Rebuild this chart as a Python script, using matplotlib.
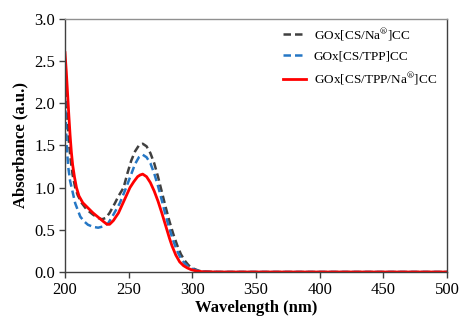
import matplotlib.pyplot as plt

# wavelength (nm) and absorbance for each sample
wl_gray = [200, 201, 202, 203, 204.5, 206, 208, 210, 213, 217, 222, 226, 229, 232, 235,
           239, 242, 246, 249, 252, 255, 258, 261, 264, 267, 270, 273, 276, 279, 282,
           285, 288, 291, 294, 297, 300, 305, 310, 320, 400, 500]
ab_gray = [2.30, 2.05, 1.80, 1.55, 1.32, 1.15, 1.00, 0.91, 0.82, 0.74, 0.68, 0.64, 0.625,
           0.64, 0.70, 0.81, 0.90, 1.00, 1.17, 1.32, 1.43, 1.50, 1.52, 1.49, 1.41, 1.29,
           1.13, 0.95, 0.77, 0.60, 0.45, 0.32, 0.21, 0.135, 0.08, 0.045, 0.015, 0.004,
           0.0, 0.0, 0.0]

wl_blue = [200, 201.3, 202.5, 204, 205.2, 208, 212, 215, 218, 222, 226, 230, 234, 238,
           243, 248, 252, 255, 258, 261, 264, 267, 270, 273, 276, 279, 282, 285, 288,
           291, 294, 297, 300, 305, 310, 320, 400, 500]
ab_blue = [2.05, 1.50, 1.25, 1.08, 1.00, 0.815, 0.656, 0.60, 0.56, 0.535, 0.525, 0.54,
           0.58, 0.68, 0.815, 1.00, 1.16, 1.28, 1.36, 1.39, 1.36, 1.29, 1.17, 1.02, 0.85,
           0.67, 0.51, 0.37, 0.25, 0.16, 0.10, 0.06, 0.035, 0.012, 0.003, 0.0, 0.0, 0.0]

wl_red = [200, 201, 202, 203, 204, 205, 206, 207.5, 209, 211, 214, 218, 222, 226, 230,
          233, 235, 238, 242, 245, 248, 251, 254, 257, 259, 261, 264, 267, 270, 273,
          276, 278, 280, 282, 284, 287, 290, 293, 296, 299, 303, 308, 320, 400, 500]
ab_red = [2.60, 2.38, 2.12, 1.86, 1.62, 1.42, 1.27, 1.12, 1.00, 0.90, 0.82, 0.76, 0.70,
          0.65, 0.60, 0.565, 0.565, 0.61, 0.70, 0.80, 0.90, 1.00, 1.07, 1.13, 1.15, 1.16,
          1.13, 1.06, 0.96, 0.84, 0.70, 0.60, 0.50, 0.40, 0.31, 0.20, 0.12, 0.075, 0.048,
          0.028, 0.012, 0.003, 0.0, 0.0, 0.0]

labels = [r"GOx[CS/Na$^{\circledR}$]CC", "GOx[CS/TPP]CC", r"GOx[CS/TPP/Na$^{\circledR}$]CC"]

plt.rcParams['font.family'] = ['Liberation Serif', 'DejaVu Serif']
plt.rcParams['mathtext.fontset'] = 'stix'

fig = plt.figure(figsize=(4.61, 3.2), dpi=100)
ax = fig.add_axes([0.141, 0.15, 0.829, 0.791])

ax.plot(wl_gray, ab_gray, color='#404040', linestyle=(0, (3, 1.6)), linewidth=1.8, label=labels[0])
ax.plot(wl_blue, ab_blue, color='#2577c5', linestyle=(0, (3, 1.6)), linewidth=1.8, label=labels[1])
ax.plot(wl_red, ab_red, color='#ff0000', linewidth=2.0, label=labels[2])

ax.set_xlim(200, 500)
ax.set_ylim(0, 3.0)
ax.set_xticks(range(200, 501, 50))
ax.set_yticks([0.0, 0.5, 1.0, 1.5, 2.0, 2.5, 3.0])
ax.set_yticklabels([f"{v:.1f}" for v in [0.0, 0.5, 1.0, 1.5, 2.0, 2.5, 3.0]])
ax.tick_params(direction='out', length=4, width=1, color='#404040', labelsize=12,
               top=False, right=False, pad=3)

for side in ['left', 'bottom', 'right']:
    ax.spines[side].set_color('#404040')
    ax.spines[side].set_linewidth(1.0)
ax.spines['top'].set_color('#909090')
ax.spines['top'].set_linewidth(1.0)

ax.set_xlabel('Wavelength (nm)', fontsize=12, fontweight='bold', labelpad=2)
ax.set_ylabel('Absorbance (a.u.)', fontsize=12, fontweight='bold', labelpad=4)

ax.legend(loc='upper left', bbox_to_anchor=(0.571, 0.973), frameon=False, fontsize=9.5,
          borderaxespad=0, borderpad=0, handlelength=1.7, handletextpad=0.6,
          labelspacing=0.6)

fig.savefig('out.png', dpi=100)
